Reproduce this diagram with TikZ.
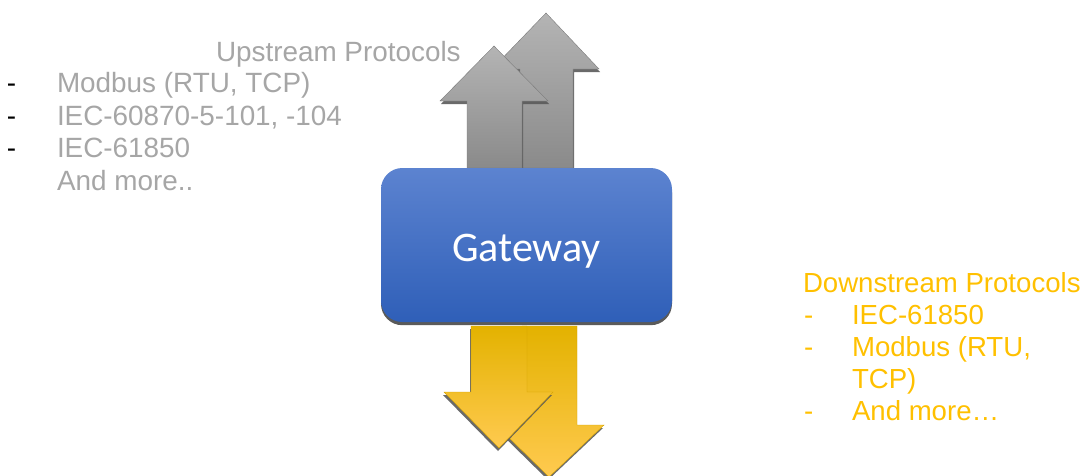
\documentclass[tikz,border=0pt]{standalone}
\usepackage{fontspec}
\setmainfont{Liberation Sans}
\newfontfamily\gwfont{Carlito}
\usetikzlibrary{shadows}

\definecolor{txtgray}{HTML}{A6A6A6}
\definecolor{orng}{HTML}{FFC000}
\definecolor{upstop}{HTML}{B4B4B4}
\definecolor{upsbot}{HTML}{8A8A8A}
\definecolor{upedge}{HTML}{7A7A7A}
\definecolor{boxtop}{HTML}{5C83D0}
\definecolor{boxbot}{HTML}{2F5FB8}
\definecolor{dntop}{HTML}{E3B200}
\definecolor{dnmid}{HTML}{FFC000}
\definecolor{dnbot}{HTML}{FFCA50}
\definecolor{dnedge}{HTML}{D4A300}
\definecolor{shade}{HTML}{5A5A5A}

\tikzset{
  arrshadow/.style={fill=shade, opacity=0.9},
  uparr/.style={top color=upstop, bottom color=upsbot, draw=upedge, line width=0.3pt},
  dnarr/.style={top color=dntop, middle color=dnmid, bottom color=dnbot, draw=dnedge, line width=0.3pt},
  gwbox/.style={rounded corners=16pt, minimum width=218.25pt, minimum height=115.5pt,
    top color=boxtop, bottom color=boxbot, draw=none,
    drop shadow={shadow xshift=0pt, shadow yshift=-2.4pt, fill=shade, opacity=1}},
  gwtext/.style={inner sep=0pt, text=white, font=\gwfont\fontsize{31.6pt}{36pt}\selectfont},
  label/.style={anchor=base west, inner sep=0pt, outer sep=0pt},
  uphead/.style={label, text=txtgray, font=\fontsize{20.9pt}{24pt}\selectfont},
  upitem/.style={label, text=txtgray, font=\fontsize{20.9pt}{24pt}\selectfont},
  updash/.style={label, text=black, font=\fontsize{20.9pt}{24pt}\selectfont},
  dnitem/.style={label, text=orng, font=\fontsize{20.7pt}{24pt}\selectfont},
}

\begin{document}
\begin{tikzpicture}[x=0.75pt, y=-0.75pt]
\useasboundingbox (0,0) rectangle (1085,475);

% upward arrows: the rear one first, then the front one
\fill[arrshadow, shift={(1,3)}] (520,168) -- (520,69) -- (492,69) -- (546,13) -- (599,69) -- (573,69) -- (573,168) -- cycle;
\shade[uparr] (520,168) -- (520,69) -- (492,69) -- (546,13) -- (599,69) -- (573,69) -- (573,168) -- cycle;
\fill[arrshadow, shift={(1,3)}] (467,168) -- (467,101) -- (440,101) -- (494,46) -- (548,101) -- (522,101) -- (522,168) -- cycle;
\shade[uparr] (467,168) -- (467,101) -- (440,101) -- (494,46) -- (548,101) -- (522,101) -- (522,168) -- cycle;

% downward arrows: the rear one first, then the front one
\fill[arrshadow, shift={(-1,3)}] (522,326) -- (522,425) -- (496,425) -- (549,477) -- (604,425) -- (577,425) -- (577,326) -- cycle;
\shade[dnarr] (522,326) -- (522,425) -- (496,425) -- (549,477) -- (604,425) -- (577,425) -- (577,326) -- cycle;
\fill[arrshadow, shift={(-1,3)}] (471,326) -- (471,392) -- (444,392) -- (499,448) -- (553,392) -- (527,392) -- (527,326) -- cycle;
\shade[dnarr] (471,326) -- (471,392) -- (444,392) -- (499,448) -- (553,392) -- (527,392) -- (527,326) -- cycle;

% the gateway block and its caption
\node[gwbox] (gw) at (526.5,245) {};
\node[gwtext] (gwt) at (526.5,251) {Gateway};

% upstream protocol list
\node[uphead] (uph) at (216,61) {Upstream Protocols};
\node[updash] (ud1) at (7,92)  {-};
\node[updash] (ud2) at (7,125) {-};
\node[updash] (ud3) at (7,157) {-};
\node[upitem] (u1) at (57,92)  {Modbus (RTU, TCP)};
\node[upitem] (u2) at (57,125) {IEC-60870-5-101, -104};
\node[upitem] (u3) at (57,157) {IEC-61850};
\node[upitem] (u4) at (57,190) {And more..};

% downstream protocol list
\node[dnitem] (dnh) at (803,292) {Downstream Protocols};
\node[dnitem] (dd1) at (804,324) {-};
\node[dnitem] (dd2) at (804,356) {-};
\node[dnitem] (dd3) at (804,420) {-};
\node[dnitem] (d1) at (852,324) {IEC-61850};
\node[dnitem] (d2) at (852,356) {Modbus (RTU,};
\node[dnitem] (d3) at (852,388) {TCP)};
\node[dnitem] (d4) at (852,420) {And more…};
\end{tikzpicture}
\end{document}
